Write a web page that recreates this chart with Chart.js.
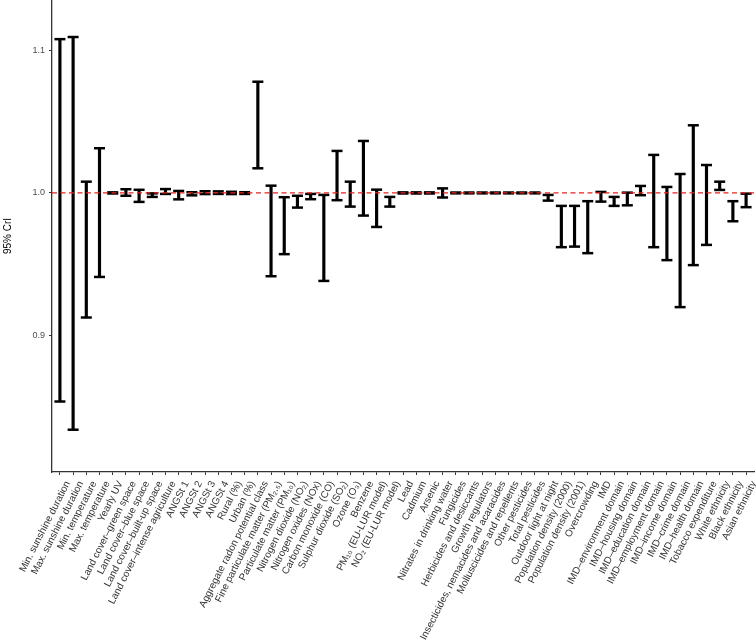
<!DOCTYPE html>
<html>
<head>
<meta charset="utf-8">
<title>95% CrI</title>
<script src="https://cdn.jsdelivr.net/npm/chart.js@4"></script>
<style>
    body { margin: 0; background: #fff; }
    #wrap { width: 756px; height: 644px; }
</style>
</head>
<body>
<div id="wrap"><canvas id="crIChart"></canvas></div>
<script>
// Data
const categories = [
    'Min. sunshine duration', 'Max. sunshine duration', 'Min. temperature', 'Max. temperature',
    'Yearly UV', 'Land cover–green space', 'Land cover–blue space', 'Land cover–built-up space',
    'Land cover–intense agriculture', 'ANGSt 1', 'ANGSt 2', 'ANGSt 3', 'ANGSt 4', 'Rural (%)',
    'Urban (%)', 'Aggregate radon potential class', 'Fine particulate matter (PM₂.₅)',
    'Particulate matter (PM₁₀)', 'Nitrogen dioxide (NO₂)', 'Nitrogen oxides (NOx)',
    'Carbon monoxide (CO)', 'Sulphur dioxide (SO₂)', 'Ozone (O₃)', 'Benzene',
    'PM₁₀ (EU-LUR model)', 'NO₂ (EU-LUR model)', 'Lead', 'Cadmium', 'Arsenic',
    'Nitrates in drinking water', 'Fungicides', 'Herbicides and desiccants', 'Growth regulators',
    'Insecticides, nemacides and acaracides', 'Molluscicides and repellents', 'Other pesticides',
    'Total pesticides', 'Outdoor light at night', 'Population density (2000)',
    'Population density (2001)', 'Overcrowding', 'IMD', 'IMD–environment domain',
    'IMD–housing domain', 'IMD–education domain', 'IMD–employment domain', 'IMD–income domain',
    'IMD–crime domain', 'IMD–health domain', 'Tobacco expenditure', 'White ethnicity',
    'Black ethnicity', 'Asian ethnicity'
];

const lower = [
    0.8535, 0.8337, 0.9125, 0.9410, 0.9996, 0.9980, 0.9937, 0.9972, 0.9993, 0.9955,
    0.9983, 0.9992, 0.9993, 0.9992, 0.9993, 1.0173, 0.9415, 0.9570, 0.9897, 0.9956,
    0.9382, 0.9949, 0.9904, 0.9841, 0.9761, 0.9904, 0.9996, 0.9996, 0.9996, 0.9968,
    0.9997, 0.9997, 0.9997, 0.9997, 0.9997, 0.9997, 0.9997, 0.9946, 0.9619, 0.9623,
    0.9577, 0.9939, 0.9909, 0.9913, 0.9984, 0.9619, 0.9528, 0.9198, 0.9493, 0.9635,
    1.0021, 0.9801, 0.9900
];

const upper = [
    1.1080, 1.1095, 1.0079, 1.0314, 1.0004, 1.0026, 1.0022, 0.9997, 1.0027, 1.0014,
    1.0005, 1.0012, 1.0011, 1.0008, 1.0005, 1.0781, 1.0051, 0.9970, 0.9980, 0.9993,
    0.9986, 1.0295, 1.0079, 1.0365, 1.0023, 0.9972, 1.0004, 1.0004, 1.0004, 1.0032,
    1.0003, 1.0003, 1.0003, 1.0003, 1.0003, 1.0003, 1.0003, 0.9986, 0.9909, 0.9909,
    0.9942, 1.0007, 0.9972, 1.0002, 1.0049, 1.0267, 1.0042, 1.0133, 1.0475, 1.0196,
    1.0079, 0.9942, 0.9995
];

const yTicks = [0.9, 1.0, 1.1];
const refValue = 1.0;

// Styles
const ink = '#000';
const axisColor = '#333';
const refRed = '#e8231f';
const fontFamily = "'Liberation Sans', Arial, sans-serif";

// ggplot-like padding of 0.6 category on each side
const xMin = -0.6;
const xMax = categories.length - 1 + 0.6;

const ctx = document.getElementById('crIChart').getContext('2d');
new Chart(ctx, {
    data: {
        datasets: [
            {
                // dashed reference line at 1
                type: 'line',
                data: [{ x: xMin, y: refValue }, { x: xMax, y: refValue }],
                borderColor: refRed,
                borderWidth: 1.2,
                borderDash: [5, 3.5],
                pointRadius: 0,
                order: 0
            },
            {
                // vertical whiskers
                type: 'bar',
                data: categories.map((c, i) => ({ x: i, y: [lower[i], upper[i]] })),
                backgroundColor: ink,
                barThickness: 2.5,
                order: 2
            },
            {
                // upper caps
                type: 'scatter',
                data: categories.map((c, i) => ({ x: i, y: upper[i] })),
                pointStyle: 'line',
                pointRadius: 5.5,
                borderColor: ink,
                borderWidth: 2.5,
                order: 1
            },
            {
                // lower caps
                type: 'scatter',
                data: categories.map((c, i) => ({ x: i, y: lower[i] })),
                pointStyle: 'line',
                pointRadius: 5.5,
                borderColor: ink,
                borderWidth: 2.5,
                order: 1
            }
        ]
    },
    options: {
        responsive: true,
        maintainAspectRatio: false,
        animation: false,
        layout: { autoPadding: false, padding: { top: 0, right: 2, bottom: 0, left: 0 } },
        plugins: {
            legend: { display: false },
            tooltip: { enabled: false }
        },
        scales: {
            x: {
                type: 'linear',
                offset: false,
                min: xMin,
                max: xMax,
                afterBuildTicks: (scale) => {
                    scale.ticks = categories.map((c, i) => ({ value: i }));
                },
                afterFit: (scale) => {
                    scale.height = 172;
                    scale.paddingLeft = 0;
                    scale.paddingRight = 0;
                },
                border: { display: true, color: axisColor, width: 1.3 },
                grid: { display: true, offset: false, drawOnChartArea: false, drawTicks: true, tickLength: 3, color: axisColor },
                ticks: {
                    autoSkip: false,
                    minRotation: 63,
                    maxRotation: 63,
                    padding: 4,
                    labelOffset: 8,
                    color: '#333',
                    font: { family: fontFamily, size: 10 },
                    callback: (value) => categories[value]
                }
            },
            y: {
                min: 0.804,
                max: 1.1355,
                afterBuildTicks: (scale) => {
                    scale.ticks = yTicks.map(v => ({ value: v }));
                },
                afterFit: (scale) => {
                    scale.width = 52;
                    scale.paddingTop = 0;
                    scale.paddingBottom = 0;
                },
                border: { display: true, color: axisColor, width: 1.3 },
                grid: { display: true, drawOnChartArea: false, drawTicks: true, tickLength: 3, color: axisColor },
                title: {
                    display: true,
                    text: '95% CrI',
                    color: '#000',
                    padding: { top: 2, bottom: 6 },
                    font: { family: fontFamily, size: 10 }
                },
                ticks: {
                    padding: 4,
                    color: '#4d4d4d',
                    font: { family: fontFamily, size: 9 },
                    callback: (value) => value.toFixed(1)
                }
            }
        }
    }
});
</script>
</body>
</html>
